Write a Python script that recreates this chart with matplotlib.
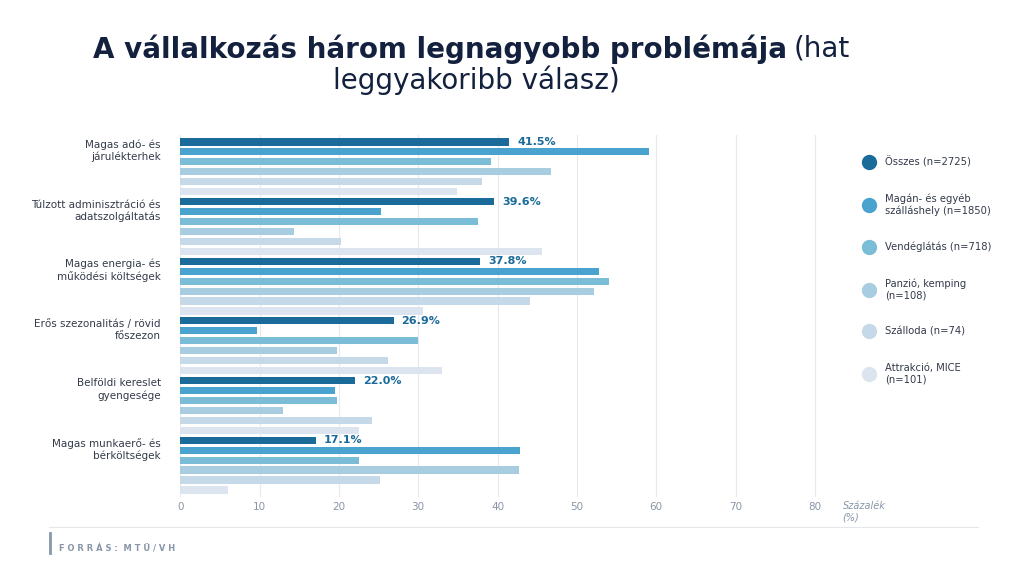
import matplotlib
matplotlib.use("Agg")
import matplotlib.pyplot as plt
import numpy as np

categories = ["Magas adó- és\njárulékterhek", "Túlzott adminisztráció és\nadatszolgáltatás",
              "Magas energia- és\nműködési költségek", "Erős szezonalitás / rövid\nfőszezon",
              "Belföldi kereslet\ngyengesége", "Magas munkaerő- és\nbérköltségek"]
series = ["Összes (n=2725)", "Magán- és egyéb\nszálláshely (n=1850)", "Vendéglátás (n=718)",
          "Panzió, kemping\n(n=108)", "Szálloda (n=74)", "Attrakció, MICE\n(n=101)"]
osszes = [41.5, 39.6, 37.8, 26.9, 22.0, 17.1]
magan = [59.1, 25.3, 52.8, 9.7, 19.5, 42.8]
vendeg = [39.2, 37.5, 54.1, 30.0, 19.7, 22.5]
panzio = [46.7, 14.4, 52.2, 19.7, 13.0, 42.7]
szalloda = [38.1, 20.3, 44.1, 26.2, 24.2, 25.2]
attrakcio = [34.9, 45.6, 30.6, 33.0, 22.5, 6.0]
values = [osszes, magan, vendeg, panzio, szalloda, attrakcio]
colors = ["#1a6a9a", "#4aa2cf", "#7bbdd6", "#a8cde0", "#c6d9e8", "#dce5ef"]

fig = plt.figure(figsize=(10.24, 5.76), dpi=100)
ax = fig.add_axes([0.176, 0.137, 0.643, 0.629])
n = len(categories)
step = 1.0
h = 0.12
off = np.arange(6) * (1/6)
for i, (vals, c) in enumerate(zip(values, colors)):
    y = np.arange(n) * step + off[i]
    ax.barh(y, vals, height=h, color=c, zorder=3)
for j, v in enumerate(osszes):
    ax.text(v + 1, j * step, f"{v:.1f}%", va="center", ha="left", fontsize=8,
            fontweight="bold", color="#1a6a9a")
ax.set_ylim(n - 1 + 5/6 + 0.12, -0.12)
ax.set_yticks(np.arange(n) * step + 0.12)
ax.set_yticklabels(categories, fontsize=7.5, color="#333a4a", ha="right")
ax.set_xlim(0, 83)
ax.set_xticks(range(0, 90, 10))
ax.tick_params(axis="x", labelsize=7.5, colors="#8896a8", length=0)
ax.tick_params(axis="y", length=0, pad=14)
ax.grid(axis="x", color="#e6e9ee", lw=0.8, zorder=0)
for s in ax.spines.values():
    s.set_visible(False)
ax.text(83.5, -0.01, "Százalék\n(%)", transform=ax.get_xaxis_transform(), fontsize=7,
        style="italic", color="#8896a8", va="top", ha="left")

handles = [plt.Line2D([], [], marker="o", ls="", ms=10, color=c) for c in colors]
fig.legend(handles, series, loc="upper left", bbox_to_anchor=(0.83, 0.745), frameon=False,
           fontsize=7.2, labelspacing=2.6, handletextpad=0.6, labelcolor="#333a4a")

fig.text(0.769, 0.915, "A vállalkozás három legnagyobb problémája", ha="right", va="center",
         fontsize=20, fontweight="bold", color="#13213f")
fig.text(0.775, 0.915, "(hat", ha="left", va="center", fontsize=20, color="#13213f")
fig.text(0.465, 0.860, "leggyakoribb válasz)", ha="center", va="center", fontsize=20, color="#13213f")

fig.add_artist(plt.Line2D([0.048, 0.955], [0.085, 0.085], color="#e3e6ea", lw=0.8))
fig.add_artist(plt.Line2D([0.049, 0.049], [0.04, 0.075], color="#8896a8", lw=2))
fig.text(0.058, 0.047, "F O R R Á S :  M T Ü / V H", fontsize=6, color="#8896a8", fontweight="bold",
         va="center")
fig.savefig("out.png", dpi=100, facecolor="white")
